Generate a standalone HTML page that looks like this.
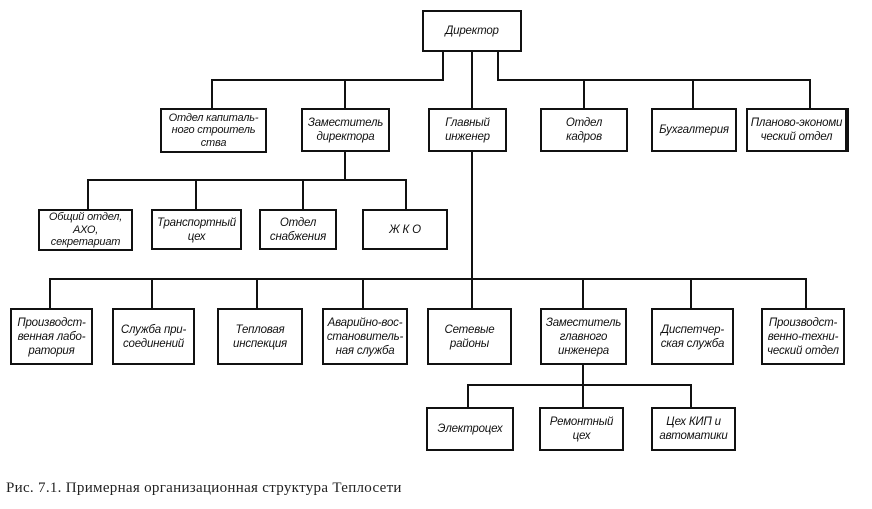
<!DOCTYPE html>
<html><head><meta charset="utf-8"><style>
body{margin:0;width:872px;height:509px;background:#fff;position:relative;overflow:hidden}
.b{position:absolute;border:2px solid #111;box-sizing:border-box;display:flex;align-items:center;justify-content:center;text-align:center;font-family:"Liberation Sans",sans-serif;font-style:italic;font-size:11.5px;line-height:14px;color:#111;letter-spacing:-0.2px}
.t{line-height:12.5px;font-size:11px}
.h,.v{position:absolute;background:#111}
.h{height:2px}.v{width:2px}
.cap{position:absolute;left:6px;top:480px;font-family:"Liberation Serif",serif;font-size:15px;letter-spacing:0.3px;color:#222}
</style></head><body>
<div class="b" style="left:422px;top:10px;width:100px;height:42px">Директор</div>
<div class="v" style="left:442px;top:52px;height:29px"></div>
<div class="v" style="left:471px;top:52px;height:56px"></div>
<div class="v" style="left:497px;top:52px;height:29px"></div>
<div class="h" style="left:211px;top:79px;width:233px"></div>
<div class="h" style="left:497px;top:79px;width:314px"></div>
<div class="v" style="left:211px;top:79px;height:29px"></div>
<div class="v" style="left:344px;top:79px;height:29px"></div>
<div class="v" style="left:583px;top:79px;height:29px"></div>
<div class="v" style="left:692px;top:79px;height:29px"></div>
<div class="v" style="left:809px;top:79px;height:29px"></div>

<div class="b t" style="left:160px;top:108px;width:107px;height:45px">Отдел капиталь-<br>ного строитель<br>ства</div>
<div class="b" style="left:301px;top:108px;width:89px;height:44px">Заместитель<br>директора</div>
<div class="b" style="left:428px;top:108px;width:79px;height:44px">Главный<br>инженер</div>
<div class="b" style="left:540px;top:108px;width:88px;height:44px">Отдел<br>кадров</div>
<div class="b" style="left:651px;top:108px;width:86px;height:44px">Бухгалтерия</div>
<div class="b" style="left:746px;top:108px;width:103px;height:44px;border-right:4px solid #111">Планово-экономи<br>ческий отдел</div>

<div class="v" style="left:344px;top:152px;height:29px"></div>
<div class="h" style="left:87px;top:179px;width:320px"></div>
<div class="v" style="left:87px;top:179px;height:30px"></div>
<div class="v" style="left:195px;top:179px;height:30px"></div>
<div class="v" style="left:302px;top:179px;height:30px"></div>
<div class="v" style="left:405px;top:179px;height:30px"></div>
<div class="b t" style="left:38px;top:209px;width:95px;height:42px">Общий отдел,<br>АХО,<br>секретариат</div>
<div class="b" style="left:151px;top:209px;width:91px;height:41px">Транспортный<br>цех</div>
<div class="b" style="left:259px;top:209px;width:78px;height:41px">Отдел<br>снабжения</div>
<div class="b" style="left:362px;top:209px;width:86px;height:41px">Ж К О</div>

<div class="v" style="left:471px;top:152px;height:156px"></div>
<div class="h" style="left:49px;top:278px;width:758px"></div>
<div class="v" style="left:49px;top:278px;height:30px"></div>
<div class="v" style="left:151px;top:278px;height:30px"></div>
<div class="v" style="left:256px;top:278px;height:30px"></div>
<div class="v" style="left:362px;top:278px;height:30px"></div>
<div class="v" style="left:582px;top:278px;height:30px"></div>
<div class="v" style="left:690px;top:278px;height:30px"></div>
<div class="v" style="left:805px;top:278px;height:30px"></div>
<div class="b" style="left:10px;top:308px;width:83px;height:57px">Производст-<br>венная лабо-<br>ратория</div>
<div class="b" style="left:112px;top:308px;width:83px;height:57px">Служба при-<br>соединений</div>
<div class="b" style="left:217px;top:308px;width:86px;height:57px">Тепловая<br>инспекция</div>
<div class="b" style="left:322px;top:308px;width:86px;height:57px">Аварийно-вос-<br>становитель-<br>ная служба</div>
<div class="b" style="left:427px;top:308px;width:85px;height:57px">Сетевые<br>районы</div>
<div class="b" style="left:540px;top:308px;width:87px;height:57px">Заместитель<br>главного<br>инженера</div>
<div class="b" style="left:651px;top:308px;width:83px;height:57px">Диспетчер-<br>ская служба</div>
<div class="b" style="left:761px;top:308px;width:84px;height:57px">Производст-<br>венно-техни-<br>ческий отдел</div>

<div class="v" style="left:582px;top:365px;height:21px"></div>
<div class="h" style="left:467px;top:384px;width:225px"></div>
<div class="v" style="left:467px;top:384px;height:23px"></div>
<div class="v" style="left:582px;top:384px;height:23px"></div>
<div class="v" style="left:690px;top:384px;height:23px"></div>
<div class="b" style="left:426px;top:407px;width:88px;height:44px">Электроцех</div>
<div class="b" style="left:539px;top:407px;width:85px;height:44px">Ремонтный<br>цех</div>
<div class="b" style="left:651px;top:407px;width:85px;height:44px">Цех КИП и<br>автоматики</div>

<div class="cap">Рис. 7.1. Примерная организационная структура Теплосети</div>
</body></html>
